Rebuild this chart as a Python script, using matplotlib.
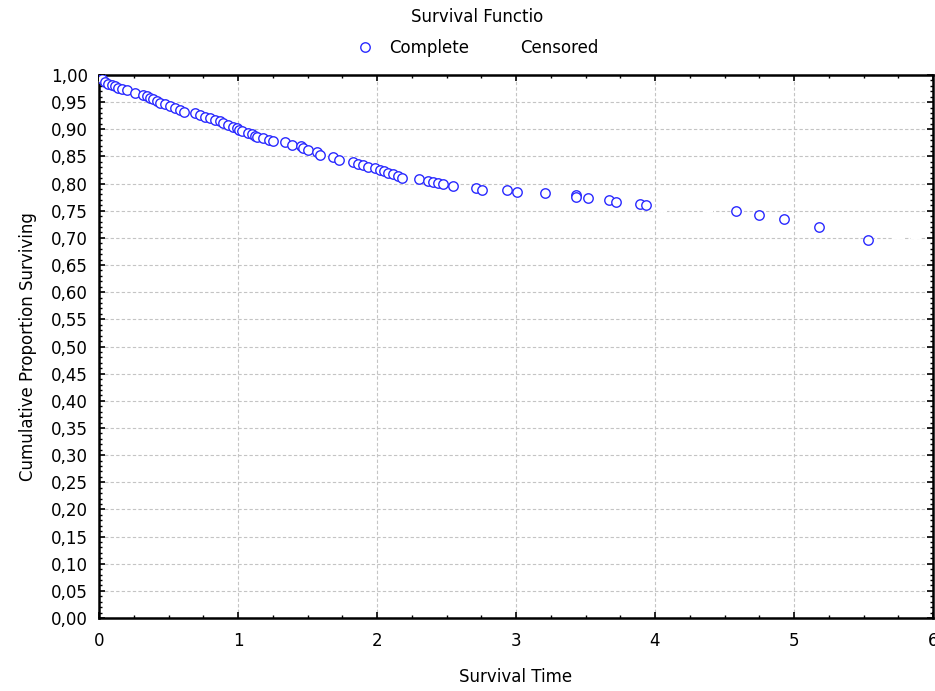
import numpy as np
import matplotlib
matplotlib.use("Agg")
import matplotlib.pyplot as plt
from matplotlib.ticker import MultipleLocator, FuncFormatter

plt.rcParams['font.family'] = ['DejaVu Sans']

# Complete (event) observations: survival time and cumulative proportion surviving
complete_time = [0.01, 0.02, 0.04, 0.065, 0.09, 0.115, 0.14, 0.165, 0.20, 0.26,
                 0.32, 0.345, 0.37, 0.39, 0.42, 0.44, 0.475, 0.51, 0.55, 0.585,
                 0.61, 0.69, 0.73, 0.76, 0.80, 0.835, 0.87, 0.89, 0.93, 0.965,
                 0.99, 1.01, 1.03, 1.07, 1.10, 1.12, 1.14, 1.18, 1.22, 1.25,
                 1.34, 1.39, 1.45, 1.47, 1.50, 1.57, 1.59, 1.68, 1.73, 1.83,
                 1.86, 1.90, 1.935, 1.985, 2.02, 2.05, 2.08, 2.115, 2.15, 2.18,
                 2.30, 2.37, 2.40, 2.44, 2.475, 2.55, 2.71, 2.755, 2.935, 3.005,
                 3.21, 3.43, 3.435, 3.52, 3.67, 3.72, 3.89, 3.935, 4.58, 4.745,
                 4.925, 5.18, 5.53]
complete_surv = [0.995, 0.992, 0.988, 0.984, 0.981, 0.979, 0.976, 0.974, 0.972, 0.966,
                 0.964, 0.961, 0.958, 0.955, 0.952, 0.948, 0.946, 0.942, 0.939, 0.936,
                 0.932, 0.930, 0.926, 0.923, 0.920, 0.917, 0.915, 0.912, 0.908, 0.904,
                 0.902, 0.899, 0.896, 0.894, 0.891, 0.888, 0.886, 0.884, 0.881, 0.878,
                 0.876, 0.872, 0.869, 0.866, 0.861, 0.858, 0.852, 0.849, 0.844, 0.840,
                 0.837, 0.834, 0.831, 0.829, 0.825, 0.823, 0.820, 0.818, 0.814, 0.810,
                 0.808, 0.805, 0.803, 0.801, 0.799, 0.796, 0.792, 0.789, 0.788, 0.785,
                 0.782, 0.779, 0.776, 0.773, 0.769, 0.766, 0.763, 0.760, 0.750, 0.743,
                 0.734, 0.720, 0.697]

# Censored observations (drawn in white in the original, nearly invisible)
censored_time = [4.05, 4.38, 5.28, 5.75, 5.88]
censored_surv = [0.750, 0.750, 0.718, 0.700, 0.700]

title_text = "Survival Functio"
x_label = "Survival Time"
y_label = "Cumulative Proportion Surviving"
series_names = ["Complete", "Censored"]

fig = plt.figure(figsize=(9.35, 6.91), dpi=100)
ax = fig.add_axes([99 / 935, 73 / 691, 834 / 935, 543 / 691])

ax.plot(complete_time, complete_surv, linestyle='none', marker='o',
        markersize=6.8, markerfacecolor='white', markeredgecolor='#2a2aff',
        markeredgewidth=1.0, label=series_names[0], zorder=3)
ax.plot(censored_time, censored_surv, linestyle='none', marker='+',
        markersize=7, markeredgecolor='white', markeredgewidth=1.5,
        label=series_names[1], zorder=2)

ax.set_xlim(0, 6)
ax.set_ylim(0, 1.0)
ax.xaxis.set_major_locator(MultipleLocator(1))
ax.xaxis.set_minor_locator(MultipleLocator(0.25))
ax.yaxis.set_major_locator(MultipleLocator(0.05))
ax.yaxis.set_minor_locator(MultipleLocator(0.01))
ax.yaxis.set_major_formatter(FuncFormatter(lambda v, p: f"{v:.2f}".replace('.', ',')))
ax.xaxis.set_major_formatter(FuncFormatter(lambda v, p: f"{v:.0f}"))

ax.tick_params(which='both', direction='in', top=True, right=True, colors='black')
ax.tick_params(which='major', length=4, width=1.2, labelsize=12)
ax.tick_params(which='minor', length=2, width=1.0)
ax.tick_params(axis='x', which='major', pad=10)
ax.tick_params(axis='y', which='major', pad=8)

ax.grid(True, which='major', color='#c4c4c4', linestyle=(0, (3, 2)), linewidth=0.8)
ax.set_axisbelow(True)
for sp in ax.spines.values():
    sp.set_linewidth(1.8)
    sp.set_color('black')

ax.set_xlabel(x_label, fontsize=12, labelpad=13)
ax.set_ylabel(y_label, fontsize=12, labelpad=10)

fig.text(477 / 935, 1 - 17 / 691, title_text, ha='center', va='center', fontsize=12)
fig.legend(loc='center', bbox_to_anchor=(478 / 935, 1 - 48 / 691), ncol=2,
           frameon=False, fontsize=12, handlelength=1.0, handletextpad=0.9,
           columnspacing=1.2, borderaxespad=0)

fig.savefig("out.png", dpi=100)
